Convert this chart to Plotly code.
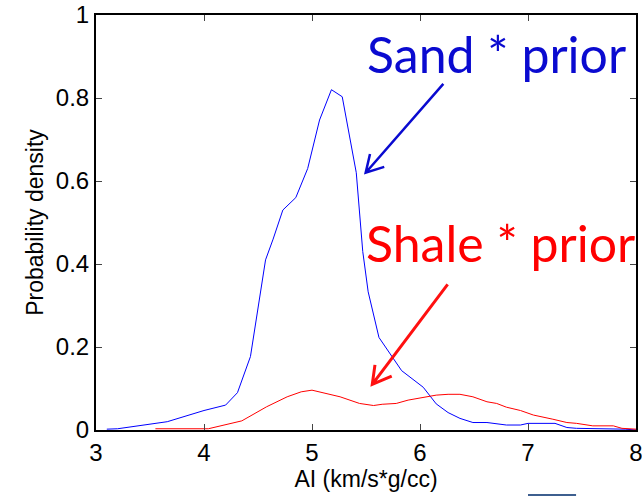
import plotly.graph_objects as go

# Data
sand_x = [3.10, 3.20, 3.66, 4.00, 4.20, 4.31, 4.43, 4.57, 4.64, 4.73, 4.85, 4.96, 5.07,
          5.18, 5.28, 5.41, 5.47, 5.52, 5.62, 5.83, 6.03, 6.15, 6.26, 6.37, 6.49, 6.62,
          6.80, 6.93, 7.00, 7.25, 7.36, 7.45, 7.90, 8.00]
sand_y = [0.002, 0.003, 0.020, 0.047, 0.060, 0.090, 0.177, 0.410, 0.460, 0.530, 0.560, 0.630, 0.747,
          0.820, 0.803, 0.620, 0.430, 0.333, 0.223, 0.143, 0.103, 0.063, 0.042, 0.028, 0.018, 0.018,
          0.012, 0.012, 0.016, 0.016, 0.006, 0.004, 0.002, 0.000]

shale_x = [3.55, 4.04, 4.35, 4.58, 4.77, 4.90, 5.00, 5.07, 5.26, 5.44, 5.57, 5.65, 5.78, 5.89,
           6.03, 6.15, 6.26, 6.37, 6.49, 6.62, 6.71, 6.80, 6.93, 7.05, 7.23, 7.36, 7.45,
           7.60, 7.79, 7.87, 8.00]
shale_y = [0.003, 0.003, 0.022, 0.056, 0.080, 0.092, 0.096, 0.092, 0.080, 0.064, 0.059, 0.062, 0.064, 0.072,
           0.078, 0.084, 0.086, 0.086, 0.080, 0.068, 0.064, 0.055, 0.047, 0.036, 0.026, 0.018, 0.016,
           0.010, 0.010, 0.004, 0.002]

x_ticks = [3, 4, 5, 6, 7, 8]
y_ticks = [0, 0.2, 0.4, 0.6, 0.8, 1]
y_ticklabels = ["0", "0.2", "0.4", "0.6", "0.8", "1"]

# Arrow geometry (tail, tip, head arms) in data coords
sand_arrow = dict(tail=(6.216, 0.834), tip=(5.497, 0.620), arms=[(5.537, 0.665), (5.669, 0.634)])
shale_arrow = dict(tail=(6.256, 0.351), tip=(5.558, 0.110), arms=[(5.583, 0.157), (5.738, 0.130)])

fig = go.Figure()
fig.add_trace(go.Scatter(x=sand_x, y=sand_y, mode="lines",
                         line=dict(color="#0000ff", width=1), showlegend=False))
fig.add_trace(go.Scatter(x=shale_x, y=shale_y, mode="lines",
                         line=dict(color="#ff0000", width=1), showlegend=False))

shapes = []
for arr, col, w in [(sand_arrow, "#0a0ad0", 2.5), (shale_arrow, "#ff1010", 3)]:
    tx, ty = arr["tail"]
    hx, hy = arr["tip"]
    (a1x, a1y), (a2x, a2y) = arr["arms"]
    path = f"M {tx},{ty} L {hx},{hy} M {a1x},{a1y} L {hx},{hy} L {a2x},{a2y}"
    shapes.append(dict(type="path", path=path, xref="x", yref="y",
                       line=dict(color=col, width=w)))

shapes.append(dict(type="rect", xref="paper", yref="paper", x0=0.8, x1=0.889,
                   y0=-0.165, y1=-0.154, fillcolor="#3e5f8f", line=dict(width=0)))

annotations = [
    dict(text="Sand * prior", xref="paper", yref="paper", x=(365 - 96) / 540, y=(430 - 54) / 415,
         xanchor="left", yanchor="middle", showarrow=False,
         font=dict(family="Lato", size=50, color="#0a0ad0")),
    dict(text="Shale * prior", xref="paper", yref="paper", x=(364 - 96) / 540, y=(430 - 243) / 415,
         xanchor="left", yanchor="middle", showarrow=False,
         font=dict(family="Lato", size=50, color="#ff0000")),
]

fig.update_layout(
    width=642, height=496,
    margin=dict(l=96, r=6, t=15, b=66),
    paper_bgcolor="white", plot_bgcolor="white",
    font=dict(family="Liberation Sans", color="black"),
    shapes=shapes, annotations=annotations,
    xaxis=dict(range=[3, 8], tickvals=x_ticks, ticks="inside", ticklen=6, tickwidth=1,
               showline=True, linewidth=2, linecolor="black", mirror="ticks",
               showgrid=False, zeroline=False, tickfont=dict(size=24), automargin=False,
               ticklabeloverflow="allow",
               title=dict(text="AI (km/s*g/cc)", font=dict(size=23), standoff=4)),
    yaxis=dict(range=[0, 1], tickvals=y_ticks, ticktext=y_ticklabels, ticks="inside", ticklen=6, tickwidth=1,
               showline=True, linewidth=2, linecolor="black", mirror="ticks",
               showgrid=False, zeroline=False, tickfont=dict(size=24), automargin=False,
               ticklabeloverflow="allow",
               title=dict(text="Probability density", font=dict(size=23), standoff=6)),
)

fig.write_html("out.html")
